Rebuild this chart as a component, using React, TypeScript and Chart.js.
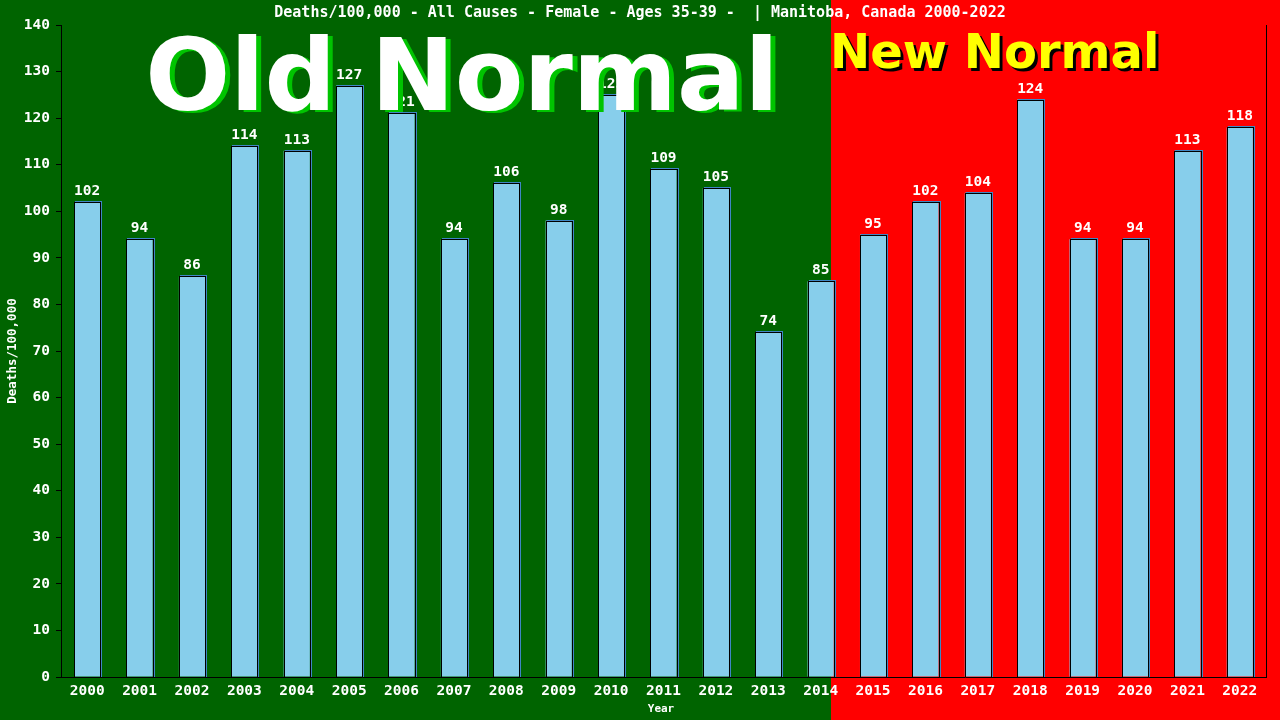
import React, { useEffect, useRef } from "react";
import { Chart, registerables } from "chart.js";

Chart.register(...registerables);

const years = ["2000","2001","2002","2003","2004","2005","2006","2007","2008","2009","2010","2011","2012","2013","2014","2015","2016","2017","2018","2019","2020","2021","2022"];
const deaths = [102,94,86,114,113,127,121,94,106,98,125,109,105,74,85,95,102,104,124,94,94,113,118];
const yTicks = [0,10,20,30,40,50,60,70,80,90,100,110,120,130,140];
const titleText = "Deaths/100,000 - All Causes - Female - Ages 35-39 -  | Manitoba, Canada 2000-2022";
const oldNormalLastIndex = 14;

const MONO = "'DejaVu Sans Mono', 'Liberation Mono', monospace";

export default function App() {
  const ref = useRef<HTMLCanvasElement | null>(null);
  useEffect(() => {
    document.body.style.margin = "0";
    const canvas = ref.current!;
    const bgPlugin = {
      id: "bg",
      beforeDraw(chart: any) {
        const { ctx, width, height } = chart;
        const x = chart.scales.x;
        const step = x.getPixelForValue(1) - x.getPixelForValue(0);
        const split = Math.round(x.getPixelForValue(oldNormalLastIndex) + step * 0.2);
        ctx.save();
        ctx.fillStyle = "#006400";
        ctx.fillRect(0, 0, split, height);
        ctx.fillStyle = "#ff0000";
        ctx.fillRect(split, 0, width - split, height);
        ctx.restore();
      },
      afterDatasetsDraw(chart: any) {
        const { ctx, chartArea } = chart;
        const meta = chart.getDatasetMeta(0);
        ctx.save();
        meta.data.forEach((bar: any, i: number) => {
          const left = Math.round(bar.x - bar.width / 2);
          const right = Math.round(bar.x + bar.width / 2);
          const top = Math.round(bar.y);
          const base = Math.round(bar.base);
          ctx.fillStyle = "#3f86c4";
          ctx.fillRect(right + 1, top - 1, 1, base - top + 1);
          ctx.fillRect(left + 1, top - 1, right - left, 1);
          ctx.fillStyle = "#000000";
          ctx.fillRect(left, top, 1, base - top);
          ctx.fillRect(right, top, 1, base - top);
          ctx.fillRect(left, top, right - left + 1, 1);
          ctx.fillStyle = "#ffffff";
          ctx.font = `bold 14.5px ${MONO}`;
          ctx.textAlign = "center";
          ctx.textBaseline = "alphabetic";
          ctx.fillText(String(deaths[i]), bar.x, bar.y - 7);
        });
        // right frame line
        ctx.strokeStyle = "#000";
        ctx.lineWidth = 1;
        ctx.beginPath();
        ctx.moveTo(Math.round(chartArea.right) + 0.5, chartArea.top);
        ctx.lineTo(Math.round(chartArea.right) + 0.5, chartArea.bottom);
        ctx.stroke();
        ctx.restore();
      },
      afterDraw(chart: any) {
        const { ctx, chartArea } = chart;
        ctx.save();
        // title
        ctx.fillStyle = "#ffffff";
        ctx.font = `bold 15px ${MONO}`;
        ctx.textAlign = "center";
        ctx.textBaseline = "middle";
        ctx.fillText(titleText, 640, 13);
        // y title
        ctx.save();
        ctx.translate(13, (chartArea.top + chartArea.bottom) / 2);
        ctx.rotate(-Math.PI / 2);
        ctx.font = `bold 12.5px ${MONO}`;
        ctx.fillText("Deaths/100,000", 0, 0);
        ctx.restore();
        // x title
        ctx.font = `bold 11px ${MONO}`;
        ctx.fillText("Year", 661, 709);
        // Old Normal
        ctx.font = "bold 100px 'DejaVu Sans', Verdana, sans-serif";
        ctx.textAlign = "center";
        ctx.textBaseline = "alphabetic";
        ctx.fillStyle = "#00c400";
        ctx.fillText("Old Normal", 467, 112);
        ctx.fillStyle = "#ffffff";
        ctx.fillText("Old Normal", 462, 110);
        // New Normal
        ctx.font = "bold 48px 'DejaVu Sans', Verdana, sans-serif";
        ctx.textAlign = "left";
        ctx.fillStyle = "#000000";
        ctx.fillText("New Normal", 833, 71);
        ctx.fillStyle = "#ffff00";
        ctx.fillText("New Normal", 830, 68);
        ctx.restore();
      },
    };

    const chart = new Chart(canvas, {
      type: "bar",
      data: {
        labels: years,
        datasets: [
          {
            data: deaths,
            backgroundColor: "#87ceeb",
            borderWidth: 0,
            barPercentage: 0.5,
            categoryPercentage: 1,
          },
        ],
      },
      options: {
        responsive: false,
        animation: false,
        layout: { padding: { top: 25, right: 14, left: 0, bottom: 0 } },
        plugins: {
          legend: { display: false },
          title: { display: false },
          tooltip: { enabled: false },
        },
        scales: {
          x: {
            grid: { display: false, drawTicks: false },
            border: { display: true, color: "#000000", width: 1 },
            ticks: {
              color: "#ffffff",
              font: { family: MONO, size: 14.5, weight: "bold" },
              padding: 6,
              maxRotation: 0,
              autoSkip: false,
            },
            afterFit(scale: any) {
              scale.height = 43;
            },
          },
          y: {
            min: 0,
            max: 140,
            afterBuildTicks(scale: any) {
              scale.ticks = yTicks.map((v) => ({ value: v }));
            },
            grid: {
              display: true,
              drawOnChartArea: false,
              drawTicks: true,
              tickLength: 5,
              color: "#000000",
            },
            border: { display: true, color: "#000000", width: 1 },
            ticks: {
              color: "#ffffff",
              font: { family: MONO, size: 14.5, weight: "bold" },
              padding: 6,
            },
            afterFit(scale: any) {
              scale.width = 61;
            },
          },
        },
      },
      plugins: [bgPlugin],
    });
    return () => chart.destroy();
  }, []);
  return (
    <div style={{ width: 1280, height: 720 }}>
      <canvas ref={ref} width={1280} height={720} />
    </div>
  );
}
